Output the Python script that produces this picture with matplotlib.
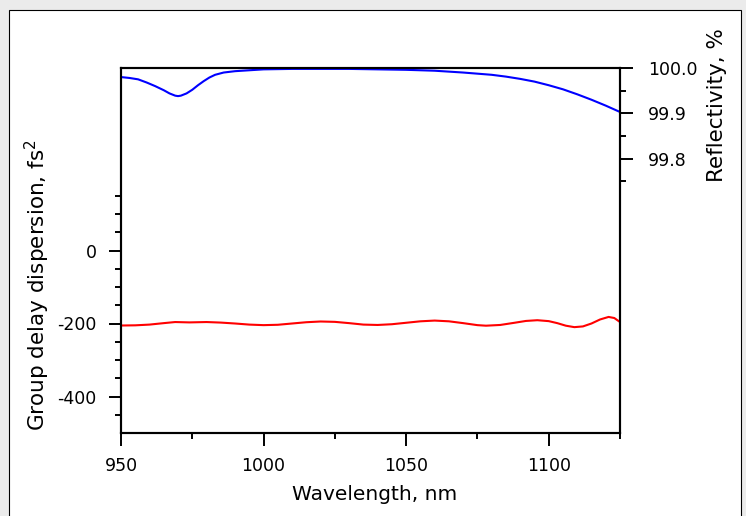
import matplotlib
matplotlib.use("Agg")
import matplotlib.pyplot as plt
from matplotlib.patches import Rectangle
from matplotlib.ticker import FixedLocator, FormatStrFormatter


# group delay dispersion, fs^2
wl_gdd = [950, 955, 960, 965, 969, 974, 980, 985, 990, 995, 1000, 1005,
          1010, 1015, 1020, 1025, 1030, 1035, 1040, 1045, 1050, 1055, 1060,
          1065, 1070, 1075, 1078, 1083, 1088, 1092, 1096, 1100, 1103, 1106,
          1109, 1112, 1115, 1118, 1121, 1123, 1125]
gdd = [-205.5, -205, -203, -199, -196, -197, -196, -197.5, -200, -203,
       -204.5, -203.5, -200, -196.5, -194.5, -195.5, -199, -203, -204, -202,
       -198, -194, -192, -194, -199, -204.5, -206, -204, -198, -193, -191,
       -193.5, -199, -206, -210, -208, -200, -189, -182, -185, -196]

# reflectivity, %
wl_refl = [950, 953, 956, 959, 962, 965, 967, 969, 970, 971, 973, 975, 977,
           979, 981, 983, 986, 990, 995, 1000, 1010, 1020, 1030, 1040, 1050,
           1060, 1070, 1080, 1085, 1090, 1095, 1100, 1105, 1110, 1115, 1120,
           1125]
refl = [99.980, 99.978, 99.975, 99.968, 99.960, 99.951, 99.944, 99.939,
        99.938, 99.939, 99.944, 99.952, 99.962, 99.971, 99.979, 99.985,
        99.990, 99.993, 99.995, 99.997, 99.998, 99.998, 99.998, 99.997,
        99.996, 99.994, 99.990, 99.985, 99.981, 99.976, 99.970, 99.962,
        99.953, 99.942, 99.930, 99.917, 99.903]

gdd_ticks = [-400, -200, 0]
gdd_minor = [-450, -350, -300, -250, -150, -100, -50, 50, 100, 150]
refl_ticks = [99.8, 99.9, 100.0]
refl_minor = [99.75, 99.85, 99.95]
wl_ticks = [950, 1000, 1050, 1100]
wl_minor = [975, 1025, 1075, 1125]

plt.rcParams["font.family"] = "DejaVu Sans"
plt.rcParams["axes.unicode_minus"] = False

fig = plt.figure(figsize=(7.46, 5.16), dpi=100)
fig.patch.set_facecolor("#ebebeb")
fig.add_artist(Rectangle((9 / 746, -0.02), 732 / 746, 1.02 - 10 / 516,
                         transform=fig.transFigure, facecolor="white",
                         edgecolor="black", linewidth=0.8, zorder=-10))

ax = fig.add_axes([121 / 746, 1 - 433 / 516, 499 / 746, 365 / 516])
ax.plot(wl_gdd, gdd, color="#ff0000", linewidth=1.5)
ax.set_xlim(950, 1125)
ax.set_ylim(-500, 500)

ax.xaxis.set_major_locator(FixedLocator(wl_ticks))
ax.xaxis.set_minor_locator(FixedLocator(wl_minor))
ax.yaxis.set_major_locator(FixedLocator(gdd_ticks))
ax.yaxis.set_minor_locator(FixedLocator(gdd_minor))

for side in ax.spines.values():
    side.set_linewidth(1.5)

ax.tick_params(axis="both", which="major", length=9, width=1.4,
               labelsize=12.5, pad=8.5)
ax.tick_params(axis="both", which="minor", length=4.5, width=1.4)

ax.set_xlabel("Wavelength, nm", fontsize=14.5)
ax.xaxis.set_label_coords(0.509, -0.143)
ax.set_ylabel("Group delay dispersion, fs$^2$", fontsize=15.5)
ax.yaxis.set_label_coords(-0.138, 0.405)

ax2 = ax.twinx()
ax2.plot(wl_refl, refl, color="#0000ff", linewidth=1.5)
ax2.set_ylim(99.195, 100.0)
ax2.yaxis.set_major_locator(FixedLocator(refl_ticks))
ax2.yaxis.set_minor_locator(FixedLocator(refl_minor))
ax2.yaxis.set_major_formatter(FormatStrFormatter("%.1f"))
for side in ax2.spines.values():
    side.set_linewidth(1.5)
ax2.tick_params(axis="y", which="major", length=9, width=1.4,
                labelsize=12.5, pad=11)
ax2.tick_params(axis="y", which="minor", length=4.5, width=1.4)

ax2.set_ylabel("Reflectivity, %", fontsize=15.5)
ax2.yaxis.set_label_coords(1.174, 0.899)

fig.savefig("out.png", dpi=100, facecolor=fig.get_facecolor())
